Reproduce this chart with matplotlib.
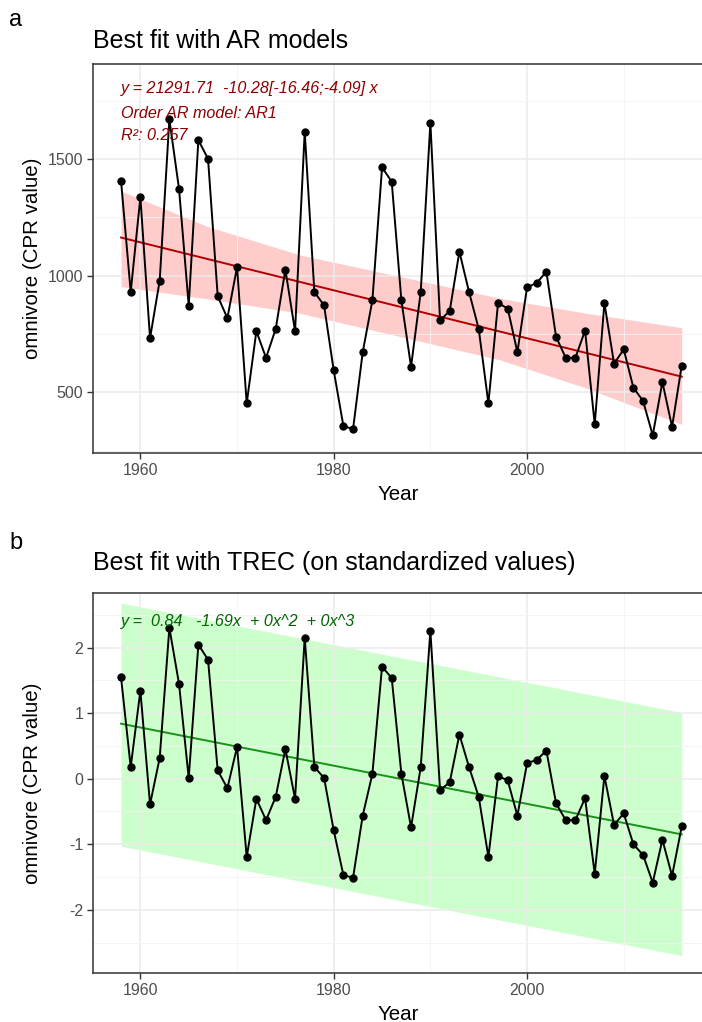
import numpy as np
import matplotlib
matplotlib.use("Agg")
import matplotlib.pyplot as plt
from matplotlib.ticker import MultipleLocator

plt.rcParams['font.family'] = ['Liberation Sans', 'DejaVu Sans']
plt.rcParams['axes.unicode_minus'] = False

# data
years = list(range(1958, 2017))
omnivore = [1407, 930, 1336, 732, 979, 1670, 1372, 872, 1581, 1501,
            912, 818, 1037, 453, 762, 648, 772, 1026, 762, 1617,
            930, 873, 594, 356, 342, 672, 894, 1464, 1403, 894,
            610, 930, 1655, 808, 849, 1103, 930, 772, 453, 883,
            859, 672, 950, 969, 1017, 738, 648, 648, 765, 363,
            883, 623, 684, 520, 463, 316, 544, 352, 615]

# AR fit (panel a)
ar_intercept = 21291.71
ar_slope = -10.28
band_years = [1958, 1967, 1976.5, 1987, 1997.2, 2006, 2016]
band_hi = [1363, 1210, 1089, 995, 903, 840, 777]
band_lo = [953, 900, 839, 738, 639, 520, 363]

# TREC fit on standardized values (panel b)
trec_coef = [0.84, -1.69]
trec_band_years = [1958, 2016]
trec_hi = [2.68, 1.01]
trec_lo = [-1.03, -2.70]

W, H = 702, 1022
fig = plt.figure(figsize=(W / 100, H / 100), dpi=100)

def px(l, t, r, b):
    return [l / W, 1 - b / H, (r - l) / W, (b - t) / H]

ax1 = fig.add_axes(px(93, 64.3, 703, 453))
ax2 = fig.add_axes(px(93, 593.3, 703, 973.3))

yr = np.array(years)
vals = np.array(omnivore, dtype=float)
zvals = (vals - vals.mean()) / vals.std(ddof=1)


def style(ax):
    ax.set_facecolor('white')
    ax.grid(which='major', color='#EBEBEB', lw=1.1, zorder=0)
    ax.grid(which='minor', color='#F2F2F2', lw=0.6, zorder=0)
    for s in ax.spines.values():
        s.set_color('#333333')
        s.set_linewidth(1.1)
    ax.tick_params(which='major', length=4, width=1, color='#333333',
                   labelsize=11.5, labelcolor='#4D4D4D', pad=3)
    ax.tick_params(which='minor', length=0)
    ax.xaxis.set_major_locator(MultipleLocator(20))
    ax.xaxis.set_minor_locator(MultipleLocator(10))
    ax.set_xlabel('Year', fontsize=14.8, labelpad=5)
    ax.set_ylabel('omnivore (CPR value)', fontsize=14.8)
    ax.yaxis.set_label_coords(-0.083, 0.5)


# panel a
style(ax1)
ax1.fill_between(band_years, band_lo, band_hi, color='#FFCCCC', lw=0, zorder=1)
ax1.plot(yr, ar_intercept + ar_slope * yr, color='#B00000', lw=1.4, zorder=2)
ax1.plot(yr, vals, color='black', lw=1.4, marker='o', ms=5, zorder=3)
ax1.set_ylim(240, 1906)
ax1.yaxis.set_major_locator(MultipleLocator(500))
ax1.yaxis.set_minor_locator(MultipleLocator(250))
ax1.set_xlim(1955.1, 2018.2)
ann_col = '#8B0000'
ann_lines = ['y = 21291.71  -10.28[-16.46;-4.09] x',
             'Order AR model: AR1', 'R\u00b2: 0.257']
ann_y = [1804, 1697, 1599]
for s, yv in zip(ann_lines, ann_y):
    ax1.text(1958, yv, s, color=ann_col, style='italic',
             fontsize=11.6, ha='left', va='center', zorder=4)

# panel b
style(ax2)
ax2.fill_between(trec_band_years, trec_lo, trec_hi, color='#CCFFCC', lw=0, zorder=1)
xs = (yr - yr.min()) / (yr.max() - yr.min())
ax2.plot(yr, trec_coef[0] + trec_coef[1] * xs, color='#1A921A', lw=1.4, zorder=2)
ax2.plot(yr, zvals, color='black', lw=1.4, marker='o', ms=5, zorder=3)
ax2.set_ylim(-2.97, 2.83)
ax2.yaxis.set_major_locator(MultipleLocator(1))
ax2.yaxis.set_minor_locator(MultipleLocator(0.5))
ax2.set_xlim(1955.1, 2018.2)
ax2.text(1958, 2.40, 'y =  0.84   -1.69x  + 0x^2  + 0x^3', color='#006400',
         style='italic', fontsize=11.6, ha='left', va='center', zorder=4)

# titles and panel letters
fig.text(93 / W, 1 - 41 / H, 'Best fit with AR models', fontsize=18,
         ha='left', va='center')
fig.text(93 / W, 1 - 563 / H, 'Best fit with TREC (on standardized values)',
         fontsize=18, ha='left', va='center')
fig.text(9 / W, 1 - 20 / H, 'a', fontsize=17, ha='left', va='center')
fig.text(9 / W, 1 - 543 / H, 'b', fontsize=17, ha='left', va='center')

fig.savefig('out.png', dpi=100)
